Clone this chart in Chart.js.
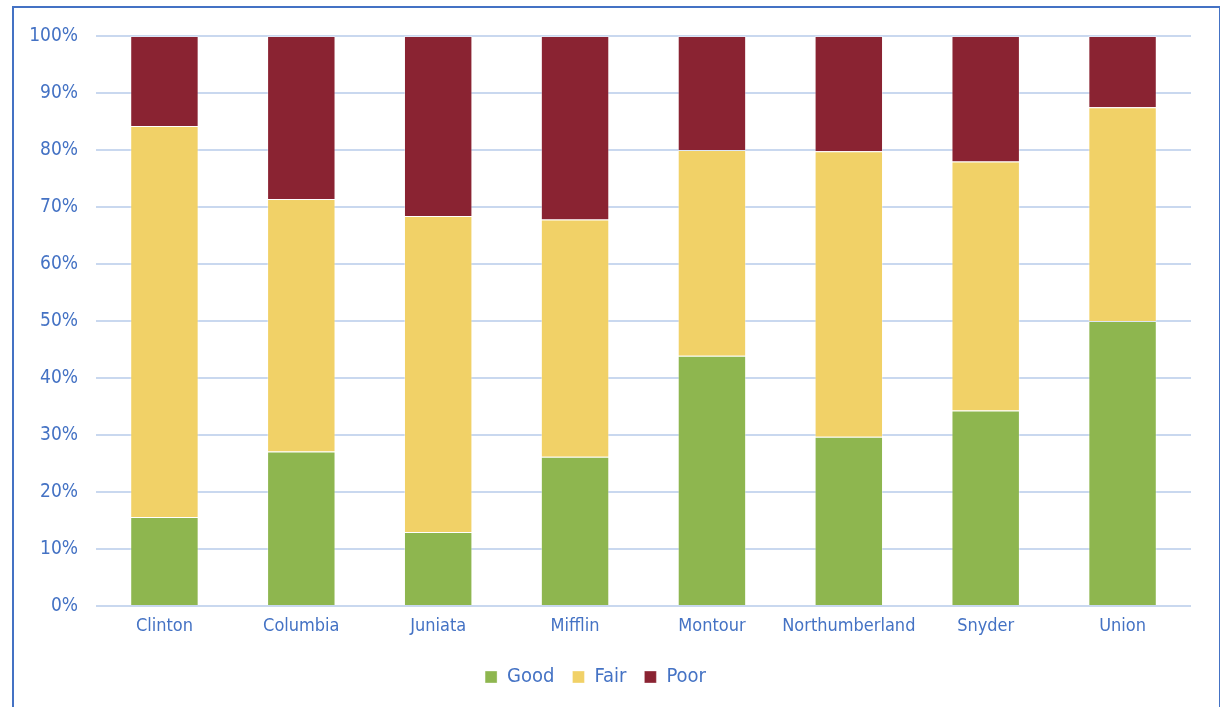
<!DOCTYPE html>
<html>
<head>
<meta charset="utf-8">
<script src="https://cdn.jsdelivr.net/npm/chart.js@4"></script>
<style>
    html, body { margin: 0; padding: 0; background: #fff; overflow: hidden; }
    #wrap { position: relative; width: 1220px; height: 707px; }
    #frame { position: absolute; left: 12px; top: 6px; width: 1205px; height: 720px; border: 2px solid #4472c4; }
    #chart { position: absolute; left: 0; top: 0; }
</style>
</head>
<body>
<div id="wrap">
    <div id="frame"></div>
    <canvas id="chart" width="1220" height="707"></canvas>
</div>
<script>
var counties = ['Clinton', 'Columbia', 'Juniata', 'Mifflin', 'Montour', 'Northumberland', 'Snyder', 'Union'];
var good = [15.6, 27.1, 13.0, 26.2, 43.9, 29.7, 34.3, 50.0];
var fair = [68.6, 44.3, 55.4, 41.6, 36.1, 50.1, 43.7, 37.5];
var poor = [15.8, 28.6, 31.6, 32.2, 20.0, 20.2, 22.0, 12.5];

var textColor = '#4472c4';
var fontFamily = '"Liberation Sans Narrow", "DejaVu Sans Condensed", "Liberation Sans", sans-serif';

function series(label, data, color) {
    return {
        label: label,
        data: data,
        backgroundColor: color,
        borderColor: 'rgba(255,255,255,0.35)',
        borderWidth: 1,
        barPercentage: 0.5,
        categoryPercentage: 1
    };
}

new Chart(document.getElementById('chart'), {
    type: 'bar',
    data: {
        labels: counties,
        datasets: [
            series('Good', good, '#8eb64f'),
            series('Fair', fair, '#f1d167'),
            series('Poor', poor, '#8a2332')
        ]
    },
    options: {
        responsive: false,
        animation: false,
        layout: { padding: { top: 36, right: 29, left: 0, bottom: 10 } },
        plugins: {
            legend: {
                position: 'bottom',
                labels: {
                    color: textColor,
                    font: { family: fontFamily, size: 20 },
                    boxWidth: 12,
                    boxHeight: 12,
                    padding: 18
                }
            },
            tooltip: { enabled: false }
        },
        scales: {
            x: {
                stacked: true,
                grid: { display: false, drawTicks: false },
                border: { display: false },
                ticks: {
                    color: textColor,
                    font: { family: fontFamily, size: 18 },
                    padding: 10,
                    autoSkip: false,
                    maxRotation: 0
                },
                afterFit: function(s) { s.height = 43; }
            },
            y: {
                stacked: true,
                min: 0,
                max: 100,
                grid: { color: '#c9d8ef', lineWidth: 2, drawTicks: false },
                border: { display: false },
                ticks: {
                    stepSize: 10,
                    color: textColor,
                    font: { family: fontFamily, size: 19 },
                    padding: 18,
                    callback: function(v) { return v + '%'; }
                },
                afterFit: function(s) { s.width = 96; }
            }
        }
    }
});
</script>
</body>
</html>
